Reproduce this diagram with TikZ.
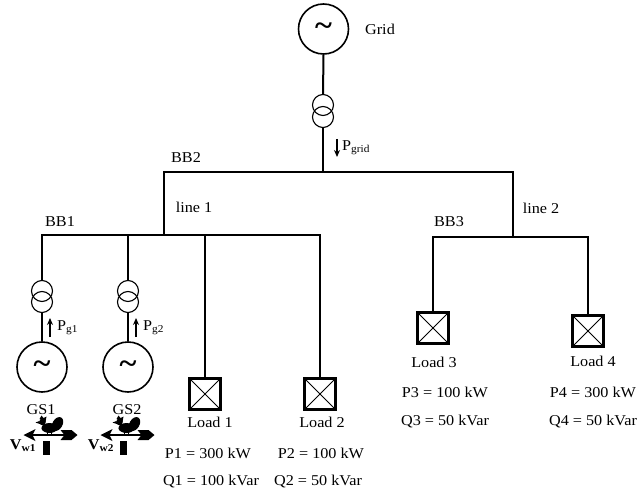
\documentclass[tikz,border=0pt]{standalone}
\usepackage{fontspec}
\setmainfont{Liberation Serif}[FakeStretch=1.08]
\usetikzlibrary{arrows.meta}
\begin{document}
\begin{tikzpicture}[x=1pt,y=-1pt,
  bus/.style={line width=2.8pt,line cap=rect},
  wire/.style={line width=2pt},
  gen/.style={circle,draw,line width=1.6pt,minimum size=50pt,inner sep=0pt,font=\fontsize{30}{30}\selectfont\bfseries},
  trafo/.style={circle,draw,line width=1.1pt,minimum size=21pt,inner sep=0pt},
  loadbox/.style={draw,line width=2.4pt,minimum size=31pt,inner sep=0pt,
    path picture={\draw[line width=0.8pt] (path picture bounding box.south west) -- (path picture bounding box.north east)
      (path picture bounding box.north west) -- (path picture bounding box.south east);}},
  lbl/.style={inner sep=0pt,font=\fontsize{15}{18}\selectfont},
  flow/.style={line width=1.2pt,-{Stealth[length=7pt,width=6pt]}},
  vane/.pic={
    \draw[line width=2pt] (-16,0) -- (18,0);
    \fill (-23,0) -- (-11,-6) -- (-14,0) -- (-11,6) -- cycle;
    \fill (14,-5) -- (25,-5) -- (31,0) -- (25,5) -- (14,5) -- (18,0) -- cycle;
    \fill (-3.5,6) rectangle (3.5,20);
    \fill (3,-7) ellipse [x radius=8, y radius=5];
    \fill[rotate around={-30:(11,-11)}] (11,-11) ellipse [x radius=5, y radius=7.5];
    \fill (-4,-13) circle [radius=3.3];
    \fill (-7,-16) -- (-5,-19.5) -- (-3,-17) -- (0,-18.5) -- (-1,-13) -- cycle;
    \fill (-7,-14) -- (-11,-12.5) -- (-6.5,-11) -- cycle;
    \fill (-2,-11) -- (-5,-6) -- (1,-4) -- cycle;
    \draw[line width=1.4pt] (1,-3) -- (1,0) (5,-3) -- (5,0);
  },
]
\useasboundingbox (0,0) rectangle (639,497);

% grid source and its transformer
\node[gen] (grid) at (323.5,29) {\char"007E};
\node[lbl] (gridlbl) at (380,29) {Grid};
\node[trafo] (tga) at (323,105) {};
\node[trafo] (tgb) at (323,117) {};
\coordinate (bb2g) at (323,172);
\draw[wire] (grid.south) -- (tga.north);
\draw[wire] (tgb.south) -- (bb2g);
\coordinate (pga) at (337,139);
\coordinate (pgb) at (337,157);
\draw[flow] (pga) -- (pgb);
\node[lbl,anchor=west] (pgrid) at (342,148) {P\textsubscript{grid}};

% BB2
\coordinate (bb2w) at (164,172);
\coordinate (bb2e) at (513,172);
\draw[bus] (bb2w) -- (bb2e);
\node[lbl] (bb2lbl) at (186,158) {BB2};
\node[lbl] (l1lbl) at (194,207) {line 1};
\node[lbl] (l2lbl) at (541,208) {line 2};

% BB1
\coordinate (bb1w) at (42,235);
\coordinate (bb1e) at (320,235);
\coordinate (bb1l) at (164,235);
\draw[wire] (bb2w) -- (bb1l);
\draw[bus] (bb1w) -- (bb1e);
\node[lbl] (bb1lbl) at (60,222) {BB1};

% BB3
\coordinate (bb3w) at (433,237);
\coordinate (bb3e) at (588,237);
\coordinate (bb3l) at (513,237);
\draw[wire] (bb2e) -- (bb3l);
\draw[bus] (bb3w) -- (bb3e);
\node[lbl] (bb3lbl) at (449,222) {BB3};

% generator 1
\node[trafo] (t1a) at (42,291) {};
\node[trafo] (t1b) at (42,302) {};
\node[gen] (gs1) at (42,367) {\char"007E};
\draw[wire] (bb1w) -- (t1a.north);
\draw[wire] (t1b.south) -- (gs1.north);
\coordinate (pg1a) at (50,337);
\coordinate (pg1b) at (50,318);
\draw[flow] (pg1a) -- (pg1b);
\node[lbl,anchor=west] (pg1) at (57,328) {P\textsubscript{g1}};
\node[lbl] (gs1lbl) at (41,410) {GS1};
\pic at (46.5,435) {vane};
\node[lbl] (vw1) at (23,446) {\textbf{V}\textsubscript{\textbf{w1}}};

% generator 2
\coordinate (bb1g2) at (128,235);
\node[trafo] (t2a) at (128,291) {};
\node[trafo] (t2b) at (128,302) {};
\node[gen] (gs2) at (128,367) {\char"007E};
\draw[wire] (bb1g2) -- (t2a.north);
\draw[wire] (t2b.south) -- (gs2.north);
\coordinate (pg2a) at (136,337);
\coordinate (pg2b) at (136,318);
\draw[flow] (pg2a) -- (pg2b);
\node[lbl,anchor=west] (pg2) at (143,328) {P\textsubscript{g2}};
\node[lbl] (gs2lbl) at (127,410) {GS2};
\pic at (123.5,435) {vane};
\node[lbl] (vw2) at (101,446) {\textbf{V}\textsubscript{\textbf{w2}}};

% loads on BB1
\coordinate (bb1d1) at (205,235);
\node[loadbox] (ld1) at (205,394) {};
\draw[wire] (bb1d1) -- (ld1.north);
\node[lbl] (ld1lbl) at (210,422) {Load 1};
\node[lbl] (p1) at (208,453) {P1 = 300 kW};
\node[lbl] (q1) at (211,482) {Q1 = 100 kVar};

\node[loadbox] (ld2) at (320,394) {};
\draw[wire] (bb1e) -- (ld2.north);
\node[lbl] (ld2lbl) at (322,422) {Load 2};
\node[lbl] (p2) at (321,453) {P2 = 100 kW};
\node[lbl] (q2) at (318,482) {Q2 = 50 kVar};

% loads on BB3
\node[loadbox] (ld3) at (433,328) {};
\draw[wire] (bb3w) -- (ld3.north);
\node[lbl] (ld3lbl) at (434,362) {Load 3};
\node[lbl] (p3) at (445,392) {P3 = 100 kW};
\node[lbl] (q3) at (445,422) {Q3 = 50 kVar};

\node[loadbox] (ld4) at (588,331) {};
\draw[wire] (bb3e) -- (ld4.north);
\node[lbl] (ld4lbl) at (593,361) {Load 4};
\node[lbl] (p4) at (593,392) {P4 = 300 kW};
\node[lbl] (q4) at (593,422) {Q4 = 50 kVar};
\end{tikzpicture}
\end{document}
